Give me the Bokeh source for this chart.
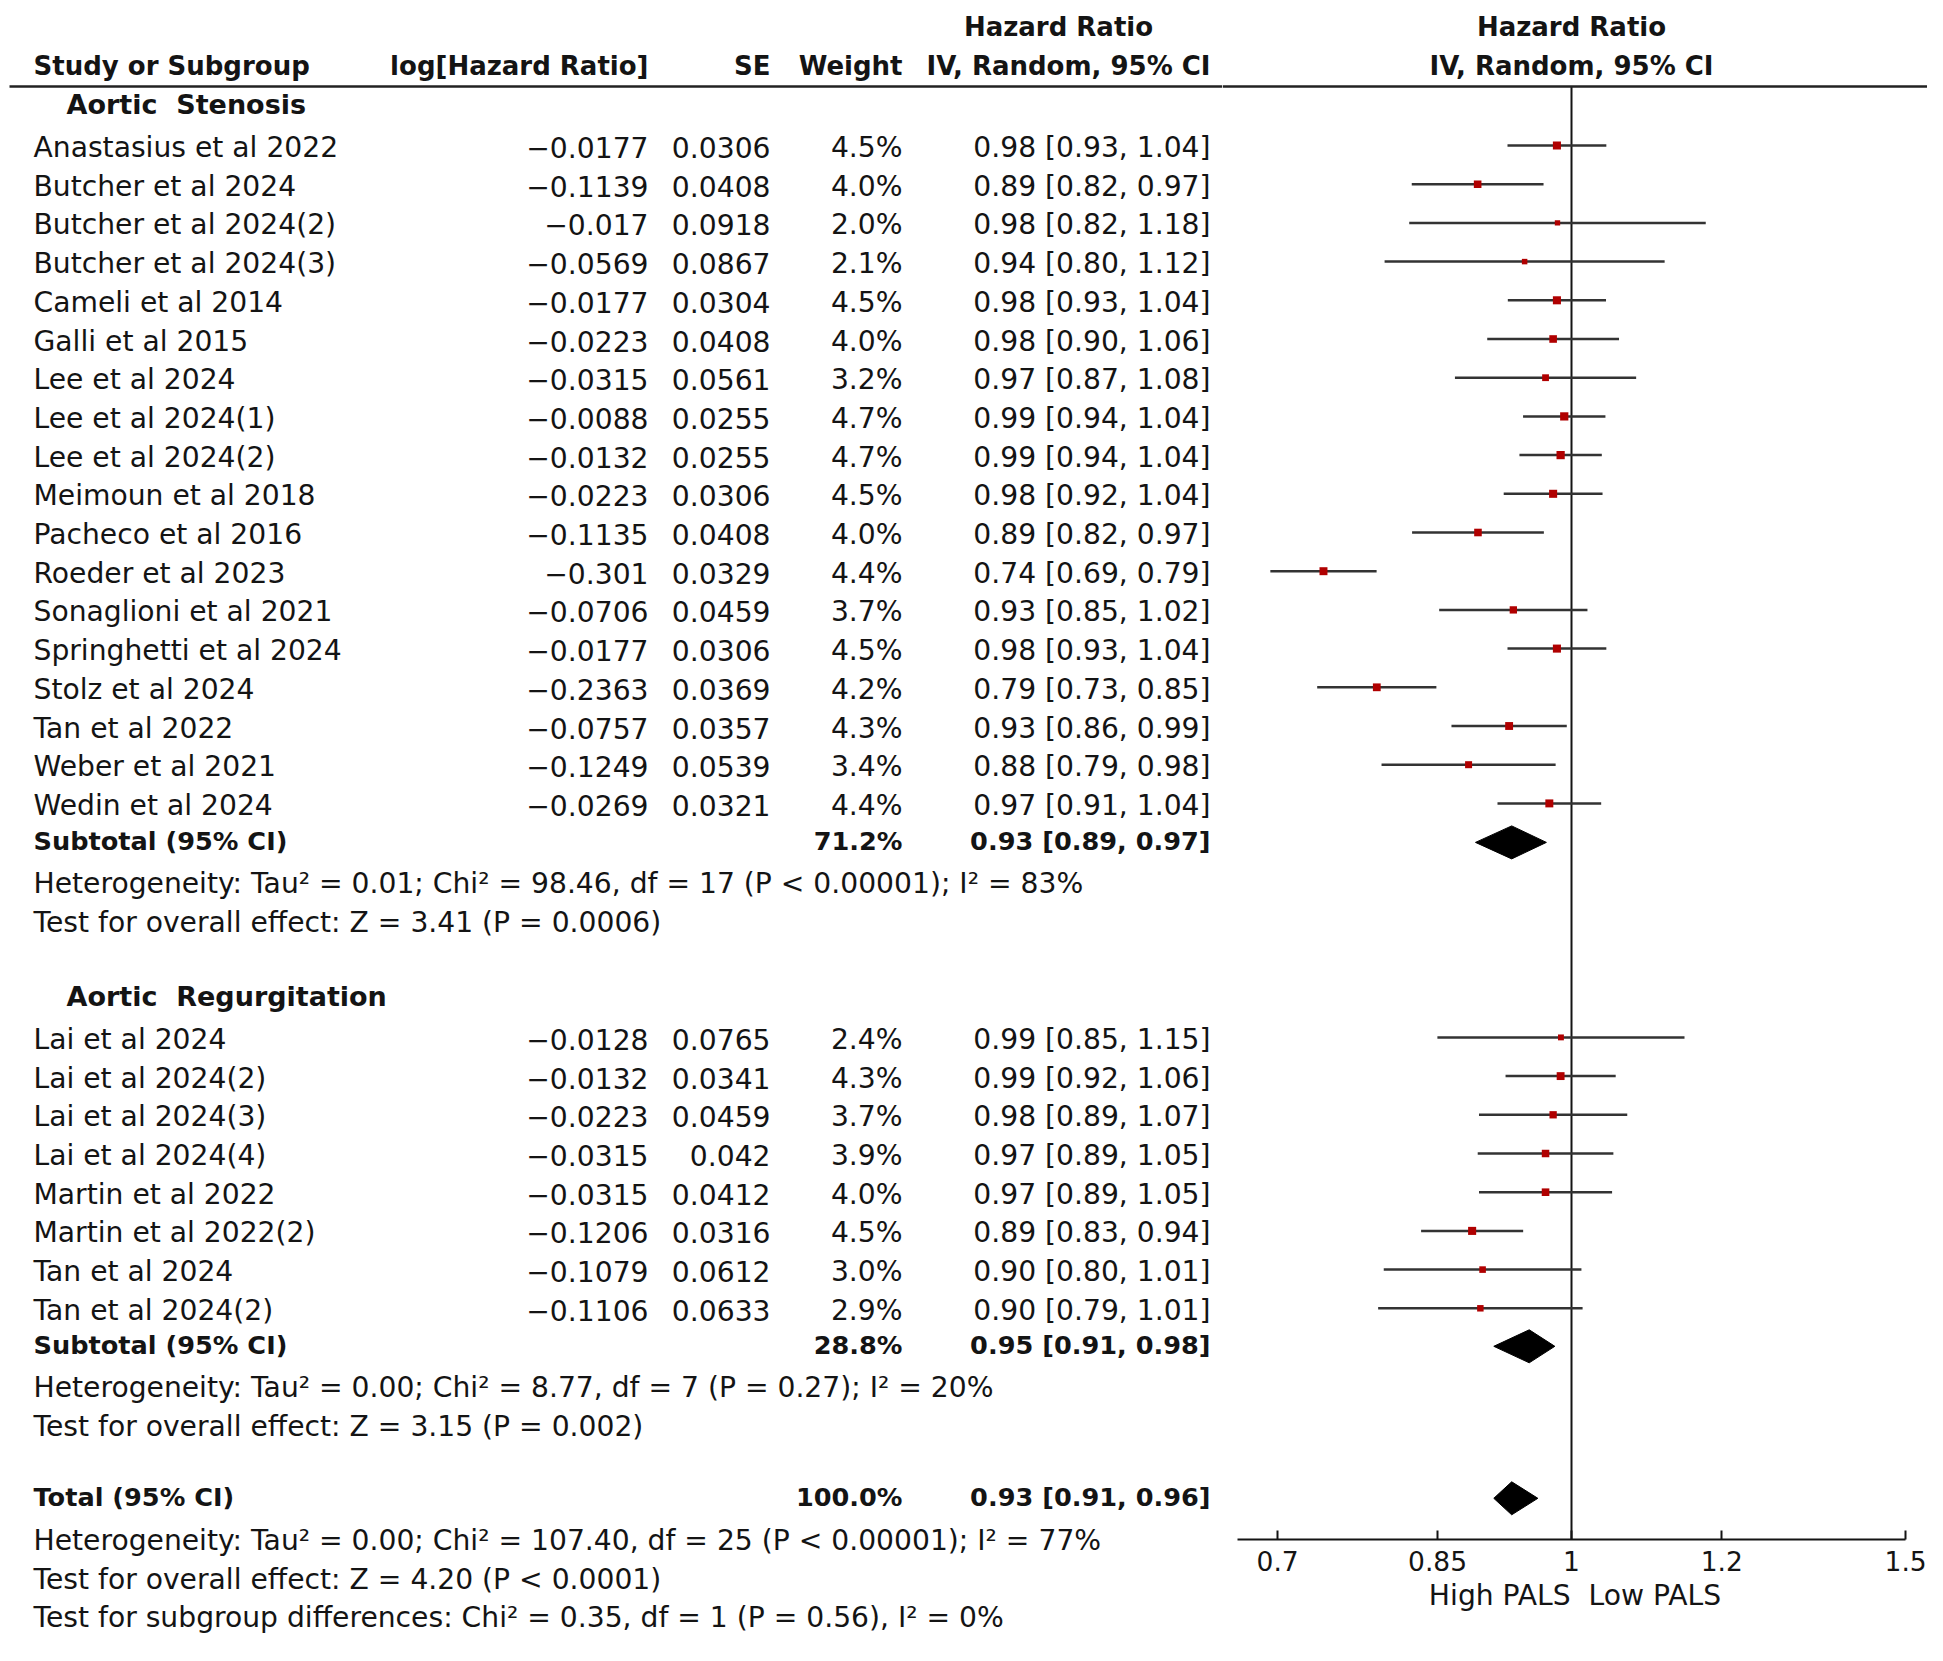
import math
from bokeh.plotting import figure
from bokeh.models import Range1d, Span, FixedTicker, ColumnDataSource
from bokeh.layouts import row, column
from bokeh.embed import file_html
from bokeh.resources import INLINE
from bokeh.core.properties import value

# ---------------- data ----------------
AS_NAMES = ["Anastasius et al 2022", "Butcher et al 2024", "Butcher et al 2024(2)", "Butcher et al 2024(3)",
            "Cameli et al 2014", "Galli et al 2015", "Lee et al 2024", "Lee et al 2024(1)", "Lee et al 2024(2)",
            "Meimoun et al 2018", "Pacheco et al 2016", "Roeder et al 2023", "Sonaglioni et al 2021",
            "Springhetti et al 2024", "Stolz et al 2024", "Tan et al 2022", "Weber et al 2021", "Wedin et al 2024"]
AS_LOGHR = [-0.0177, -0.1139, -0.017, -0.0569, -0.0177, -0.0223, -0.0315, -0.0088, -0.0132,
            -0.0223, -0.1135, -0.301, -0.0706, -0.0177, -0.2363, -0.0757, -0.1249, -0.0269]
AS_SE = [0.0306, 0.0408, 0.0918, 0.0867, 0.0304, 0.0408, 0.0561, 0.0255, 0.0255,
         0.0306, 0.0408, 0.0329, 0.0459, 0.0306, 0.0369, 0.0357, 0.0539, 0.0321]
AS_WEIGHT = [4.5, 4.0, 2.0, 2.1, 4.5, 4.0, 3.2, 4.7, 4.7, 4.5, 4.0, 4.4, 3.7, 4.5, 4.2, 4.3, 3.4, 4.4]
AS_HR = [0.98, 0.89, 0.98, 0.94, 0.98, 0.98, 0.97, 0.99, 0.99, 0.98, 0.89, 0.74, 0.93, 0.98, 0.79, 0.93, 0.88, 0.97]
AS_LO = [0.93, 0.82, 0.82, 0.80, 0.93, 0.90, 0.87, 0.94, 0.94, 0.92, 0.82, 0.69, 0.85, 0.93, 0.73, 0.86, 0.79, 0.91]
AS_HI = [1.04, 0.97, 1.18, 1.12, 1.04, 1.06, 1.08, 1.04, 1.04, 1.04, 0.97, 0.79, 1.02, 1.04, 0.85, 0.99, 0.98, 1.04]
AS_SUB = dict(weight=71.2, hr=0.93, lo=0.89, hi=0.97)
AS_HET = "Heterogeneity: Tau\u00b2 = 0.01; Chi\u00b2 = 98.46, df = 17 (P < 0.00001); I\u00b2 = 83%"
AS_TEST = "Test for overall effect: Z = 3.41 (P = 0.0006)"

AR_NAMES = ["Lai et al 2024", "Lai et al 2024(2)", "Lai et al 2024(3)", "Lai et al 2024(4)",
            "Martin et al 2022", "Martin et al 2022(2)", "Tan et al 2024", "Tan et al 2024(2)"]
AR_LOGHR = [-0.0128, -0.0132, -0.0223, -0.0315, -0.0315, -0.1206, -0.1079, -0.1106]
AR_SE = [0.0765, 0.0341, 0.0459, 0.042, 0.0412, 0.0316, 0.0612, 0.0633]
AR_WEIGHT = [2.4, 4.3, 3.7, 3.9, 4.0, 4.5, 3.0, 2.9]
AR_HR = [0.99, 0.99, 0.98, 0.97, 0.97, 0.89, 0.90, 0.90]
AR_LO = [0.85, 0.92, 0.89, 0.89, 0.89, 0.83, 0.80, 0.79]
AR_HI = [1.15, 1.06, 1.07, 1.05, 1.05, 0.94, 1.01, 1.01]
AR_SUB = dict(weight=28.8, hr=0.95, lo=0.91, hi=0.98)
AR_HET = "Heterogeneity: Tau\u00b2 = 0.00; Chi\u00b2 = 8.77, df = 7 (P = 0.27); I\u00b2 = 20%"
AR_TEST = "Test for overall effect: Z = 3.15 (P = 0.002)"

TOTAL = dict(weight=100.0, hr=0.93, lo=0.91, hi=0.96)
TOTAL_NOTES = ["Heterogeneity: Tau\u00b2 = 0.00; Chi\u00b2 = 107.40, df = 25 (P < 0.00001); I\u00b2 = 77%",
               "Test for overall effect: Z = 4.20 (P < 0.0001)",
               "Test for subgroup differences: Chi\u00b2 = 0.35, df = 1 (P = 0.56), I\u00b2 = 0%"]

TICKS = [0.7, 0.85, 1, 1.2, 1.5]
TICK_LABELS = ["0.7", "0.85", "1", "1.2", "1.5"]
SCALE = 1.5
X_LABEL = "High PALS\u00a0\u00a0Low PALS"

# ---------------- layout (image px) ----------------
FONT = "DejaVu Sans"
REG = "28.2px"
HEADSZ = "26px"
SUBSZ = "25.6px"
GROUPSZ = "27px"
INK = "#141414"
TEXT_SHIFT = 10   # glyph text renders this much below the requested baseline

W_L, W_R, H = 1222, 705, 1640
ROW = 38.7
HDR1, HDR2, HLINE = 36, 75, 86
AX_Y = 1539
X_ONE = 1571      # image x of HR = 1
PX_PER_LN = 824   # px per unit of ln(HR)

COL_NAME, COL_LOG, COL_SE, COL_W, COL_CI = 33, 648, 770, 902, 1210
COL_GROUP = 66
LINE_X0 = 9

g1_title = 114
g1_rows = [g1_title + 43 + i * ROW for i in range(len(AS_NAMES))]
g1_sub = g1_rows[-1] + 36
g1_het = g1_sub + 42
g1_test = g1_het + 39
g2_title = g1_test + 74
g2_rows = [g2_title + 43 + i * ROW for i in range(len(AR_NAMES))]
g2_sub = g2_rows[-1] + 35
g2_het = g2_sub + 42
g2_test = g2_het + 39
tot_y = g2_test + 71
tot_notes_y = [tot_y + 43, tot_y + 82, tot_y + 120]


def fmt_num(v):
    return str(v).replace("-", "\u2212")


def fmt_ci(h, l, u):
    return f"{h:.2f} [{l:.2f}, {u:.2f}]"


def add_text(p, xs, ys, texts, align="left", bold=False, size=None):
    src = ColumnDataSource(dict(x=list(xs), y=[v - TEXT_SHIFT for v in ys], t=list(texts)))
    p.text(x="x", y="y", text="t", source=src, text_align=align, text_baseline="alphabetic",
           text_font=value(FONT), text_font_size=value(size or REG),
           text_font_style="bold" if bold else "normal", text_color=INK)


# ---------------- left table (frame = whole figure) ----------------
left = figure(width=W_L, height=H, x_range=Range1d(0, W_L), y_range=Range1d(H, 0), output_backend="svg",
              toolbar_location=None, x_axis_location=None, y_axis_location=None, min_border=0,
              outline_line_color=None, background_fill_color="white", border_fill_color="white")
left.grid.grid_line_color = None

# header
add_text(left, [COL_NAME], [HDR2], ["Study or Subgroup"], bold=True, size=HEADSZ)
add_text(left, [COL_LOG, COL_SE, COL_W, COL_CI], [HDR2] * 4,
         ["log[Hazard Ratio]", "SE", "Weight", "IV, Random, 95% CI"], align="right", bold=True, size=HEADSZ)
add_text(left, [1058], [HDR1], ["Hazard Ratio"], align="center", bold=True, size=HEADSZ)
left.segment(x0=[LINE_X0], y0=[HLINE], x1=[W_L], y1=[HLINE], line_color="#222222", line_width=2.5)

# group titles
add_text(left, [COL_GROUP, COL_GROUP], [g1_title, g2_title],
         ["Aortic\u00a0\u00a0Stenosis", "Aortic\u00a0\u00a0Regurgitation"], bold=True, size=GROUPSZ)


def study_rows(names, loghr, se, w, hr, lo, hi, ys):
    add_text(left, [COL_NAME] * len(ys), ys, names)
    add_text(left, [COL_LOG] * len(ys), ys, [fmt_num(v) for v in loghr], align="right")
    add_text(left, [COL_SE] * len(ys), ys, [fmt_num(v) for v in se], align="right")
    add_text(left, [COL_W] * len(ys), ys, [f"{v:.1f}%" for v in w], align="right")
    add_text(left, [COL_CI] * len(ys), ys, [fmt_ci(a, b, c) for a, b, c in zip(hr, lo, hi)], align="right")


study_rows(AS_NAMES, AS_LOGHR, AS_SE, AS_WEIGHT, AS_HR, AS_LO, AS_HI, g1_rows)
study_rows(AR_NAMES, AR_LOGHR, AR_SE, AR_WEIGHT, AR_HR, AR_LO, AR_HI, g2_rows)

for label, d, y in [("Subtotal (95% CI)", AS_SUB, g1_sub), ("Subtotal (95% CI)", AR_SUB, g2_sub),
                    ("Total (95% CI)", TOTAL, tot_y)]:
    add_text(left, [COL_NAME], [y], [label], bold=True, size=SUBSZ)
    add_text(left, [COL_W, COL_CI], [y, y], [f"{d['weight']:.1f}%", fmt_ci(d["hr"], d["lo"], d["hi"])],
             align="right", bold=True, size=SUBSZ)

add_text(left, [COL_NAME] * 4, [g1_het, g1_test, g2_het, g2_test], [AS_HET, AS_TEST, AR_HET, AR_TEST])
add_text(left, [COL_NAME] * 3, tot_notes_y, TOTAL_NOTES)

# ---------------- right forest plot ----------------
rx0 = W_L
rx1 = W_L + W_R
x_start = math.exp((rx0 - X_ONE) / PX_PER_LN)
x_end = math.exp((rx1 - X_ONE) / PX_PER_LN)

right = figure(width=W_R, height=H, x_axis_type="log", x_range=Range1d(x_start, x_end),
               y_range=Range1d(AX_Y, 0), output_backend="svg", toolbar_location=None,
               y_axis_location=None, min_border_left=0, min_border_right=0, min_border_top=0,
               min_border_bottom=H - AX_Y, outline_line_color=None,
               background_fill_color="white", border_fill_color="white")
right.grid.grid_line_color = None

ax = right.xaxis[0]
ax.ticker = FixedTicker(ticks=TICKS)
ax.major_label_overrides = dict(zip(TICKS, TICK_LABELS))
ax.bounds = (1 / SCALE, SCALE)
ax.axis_line_width = 2
ax.axis_line_color = INK
ax.major_tick_in = 9
ax.major_tick_out = 0
ax.major_tick_line_width = 2
ax.major_tick_line_color = INK
ax.minor_tick_line_color = None
ax.major_label_text_font = FONT
ax.major_label_text_font_size = "26.5px"
ax.major_label_text_color = INK
ax.major_label_standoff = 11
ax.axis_label = X_LABEL
ax.axis_label_text_font = FONT
ax.axis_label_text_font_size = REG
ax.axis_label_text_font_style = "normal"
ax.axis_label_text_color = INK
ax.axis_label_standoff = 5

right.add_layout(Span(location=HLINE, dimension="width", line_color="#222222", line_width=2.5))
add_text(right, [1, 1], [HDR1, HDR2], ["Hazard Ratio", "IV, Random, 95% CI"], align="center",
         bold=True, size=HEADSZ)

# null line
right.segment(x0=[1], y0=[HLINE], x1=[1], y1=[AX_Y], line_color=INK, line_width=2)

MARK_OFF = 12
for loghr, se, w, ys in [(AS_LOGHR, AS_SE, AS_WEIGHT, g1_rows), (AR_LOGHR, AR_SE, AR_WEIGHT, g2_rows)]:
    est = [math.exp(v) for v in loghr]
    lo = [math.exp(v - 1.96 * s) for v, s in zip(loghr, se)]
    hi = [math.exp(v + 1.96 * s) for v, s in zip(loghr, se)]
    my = [y - MARK_OFF for y in ys]
    right.segment(x0=lo, y0=my, x1=hi, y1=my, line_color="#333333", line_width=2.5)
    right.scatter(x=est, y=my, marker="square", size=[3.8 * math.sqrt(v) for v in w],
                  fill_color="#b00000", line_color=None)

DIA_OFF, DIA_H = 9, 16.5
dxs, dys = [], []
for d, y in [(AS_SUB, g1_sub), (AR_SUB, g2_sub), (TOTAL, tot_y)]:
    cy = y - DIA_OFF
    dxs.append([d["lo"], d["hr"], d["hi"], d["hr"]])
    dys.append([cy, cy - DIA_H, cy, cy + DIA_H])
right.patches(xs=dxs, ys=dys, fill_color="black", line_color="black")

layout = row(column(left), column(right))
open("out.html", "w").write(file_html(layout, INLINE))
